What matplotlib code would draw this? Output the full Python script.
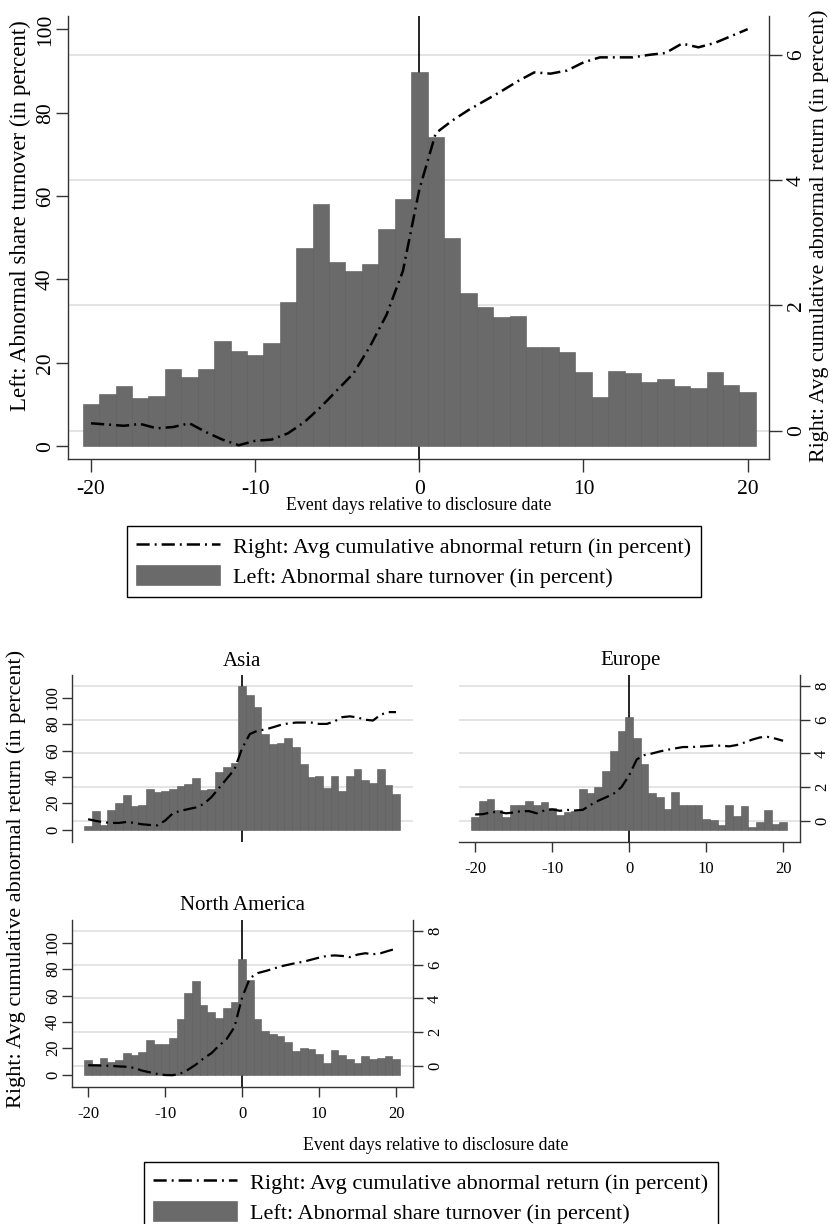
import numpy as np
import matplotlib
matplotlib.use("Agg")
import matplotlib.pyplot as plt
from matplotlib.patches import Patch
from matplotlib.lines import Line2D

plt.rcParams['font.family'] = ['Liberation Serif', 'DejaVu Serif']
plt.rcParams['lines.scale_dashes'] = False
plt.rcParams['axes.unicode_minus'] = False

# event days
days = np.arange(-20, 21)

# full sample
turnover_all = [10.0, 12.6, 14.4, 11.6, 12.0, 18.5, 16.6, 18.6, 25.3, 22.9, 21.8,
                24.8, 34.5, 47.6, 58.2, 44.2, 42.1, 43.8, 52.2, 59.2, 89.8,
                74.2, 50.0, 36.8, 33.4, 31.0, 31.1, 23.8, 23.8, 22.5, 17.7,
                11.8, 18.1, 17.6, 15.4, 16.0, 14.4, 14.0, 17.8, 14.6, 12.9]
car_all = [0.12, 0.10, 0.08, 0.11, 0.04, 0.06, 0.12, -0.02, -0.14, -0.23, -0.16,
           -0.14, -0.04, 0.14, 0.38, 0.65, 0.92, 1.35, 1.85, 2.55, 3.85,
           4.75, 4.95, 5.12, 5.27, 5.42, 5.58, 5.72, 5.70, 5.75, 5.88,
           5.96, 5.96, 5.96, 6.00, 6.03, 6.18, 6.12, 6.19, 6.30, 6.41]

# regions
turnover_asia = [2.5, 14.0, 3.3, 14.7, 20.3, 26.1, 17.7, 18.5, 30.9, 28.4, 29.2,
                 30.9, 33.0, 34.7, 39.3, 29.9, 30.9, 43.9, 47.4, 50.7, 109.0,
                 101.9, 93.0, 72.2, 64.6, 65.4, 69.7, 62.9, 49.9, 40.0, 40.6,
                 31.7, 40.6, 29.2, 40.6, 46.1, 38.0, 35.0, 46.1, 33.7, 27.1]
car_asia = [0.10, 0.00, -0.08, -0.12, -0.12, -0.06, -0.12, -0.20, -0.24, -0.26, 0.02,
            0.45, 0.60, 0.70, 0.80, 1.00, 1.40, 1.95, 2.50, 3.05, 4.30,
            5.15, 5.35, 5.42, 5.55, 5.69, 5.78, 5.83, 5.83, 5.83, 5.75,
            5.75, 5.90, 6.15, 6.20, 6.13, 6.00, 5.95, 6.30, 6.45, 6.45]

turnover_europe = [9.6, 21.5, 23.3, 15.2, 9.6, 18.5, 18.5, 21.5, 19.0, 21.0, 16.5,
                   11.4, 13.2, 13.9, 30.9, 27.9, 32.4, 44.4, 59.6, 74.8, 85.7,
                   69.2, 49.9, 27.9, 24.6, 15.7, 28.4, 19.0, 19.0, 19.0, 8.4,
                   7.1, 3.8, 19.0, 10.1, 17.7, 2.0, 5.8, 14.7, 4.3, 5.8]
car_europe = [0.38, 0.40, 0.50, 0.55, 0.45, 0.50, 0.58, 0.58, 0.45, 0.62, 0.68,
              0.60, 0.65, 0.62, 0.66, 0.95, 1.20, 1.40, 1.62, 2.00, 2.70,
              3.65, 3.90, 4.00, 4.12, 4.22, 4.30, 4.38, 4.38, 4.40, 4.43,
              4.47, 4.46, 4.42, 4.50, 4.65, 4.82, 4.95, 4.98, 4.88, 4.75]

turnover_na = [10.9, 8.3, 12.9, 9.6, 10.9, 16.7, 15.2, 17.2, 26.0, 23.0, 23.0,
               27.8, 41.9, 61.9, 70.7, 52.5, 47.5, 43.2, 50.5, 55.0, 87.9,
               71.5, 42.4, 32.8, 30.6, 29.3, 24.7, 17.9, 19.9, 19.7, 15.9,
               9.1, 18.4, 14.6, 12.1, 8.8, 13.9, 12.1, 12.4, 13.9, 12.1]
car_na = [0.04, 0.03, 0.02, 0.00, -0.03, -0.05, -0.12, -0.28, -0.38, -0.48, -0.54,
          -0.55, -0.45, -0.22, 0.08, 0.45, 0.75, 1.20, 1.60, 2.30, 4.05,
          5.20, 5.50, 5.62, 5.75, 5.90, 6.00, 6.10, 6.18, 6.30, 6.42,
          6.52, 6.55, 6.52, 6.45, 6.60, 6.68, 6.62, 6.68, 6.82, 6.95]

LBL_CAR = 'Right: Avg cumulative abnormal return (in percent)'
LBL_TURN = 'Left: Abnormal share turnover (in percent)'
XLBL = 'Event days relative to disclosure date'

W, H = 830, 1224
fig = plt.figure(figsize=(W / 100, H / 100), dpi=100)

BAR = '#6a6a6a'
GRID = '#dcdcdc'
AXC = '#333333'
DASH = (0, (9.5, 3.6, 1.4, 3.6))


def px_axes(x0, y0, x1, y1):
    return fig.add_axes([x0 / W, 1 - y1 / H, (x1 - x0) / W, (y1 - y0) / H])


def panel(box, turnover, car, ylim_l, ylim_r, lticks, rticks, xlim,
          left=True, right=True, bottom=True, fs=11, ticklen=7, lpad=1, rpad=3,
          xpad=7, lw=1.6):
    ax = px_axes(*box)
    axr = ax.twinx()
    ax.set_zorder(axr.get_zorder() + 1)
    ax.patch.set_visible(False)

    ax.axvline(0, color='black', lw=1.2, zorder=0)
    ax.bar(days, turnover, width=1, color=BAR, edgecolor='#595959', lw=0.4, zorder=1)
    ax.plot(days, car, transform=axr.transData, color='black', lw=lw,
            linestyle=DASH, zorder=3)

    ax.set_xlim(*xlim)
    ax.set_ylim(*ylim_l)
    axr.set_ylim(*ylim_r)
    ax.set_yticks(lticks)
    axr.set_yticks(rticks)
    ax.set_xticks([-20, -10, 0, 10, 20])

    axr.grid(axis='y', color=GRID, lw=1.1)
    axr.grid(axis='x', visible=False)

    for a in (ax, axr):
        for s in a.spines.values():
            s.set_visible(False)
            s.set_color(AXC)
            s.set_linewidth(1.0)
    ax.spines['left'].set_visible(left)
    ax.spines['bottom'].set_visible(bottom)
    axr.spines['right'].set_visible(right)

    ax.tick_params(axis='y', direction='out', length=ticklen if left else 0,
                   width=1, color=AXC, labelsize=fs, pad=lpad, labelrotation=90,
                   labelleft=left)
    for t in ax.get_yticklabels():
        t.set_va('center')
    axr.tick_params(axis='y', direction='out', length=ticklen if right else 0,
                    width=1, color=AXC, labelsize=fs, pad=rpad, labelrotation=90,
                    labelright=right)
    for t in axr.get_yticklabels():
        t.set_va('center')
    ax.tick_params(axis='x', direction='out', length=ticklen if bottom else 0,
                   width=1, color=AXC, labelsize=fs, pad=xpad,
                   labelbottom=bottom)
    return ax, axr


def legend(x, y, fs):
    handles = [Line2D([], [], color='black', lw=1.8, linestyle=DASH),
               Patch(facecolor=BAR, edgecolor='#595959', lw=0.4)]
    fig.legend(handles, [LBL_CAR, LBL_TURN], loc='upper left',
               bbox_to_anchor=(x / W, 1 - y / H), borderaxespad=0,
               fontsize=fs, frameon=True, fancybox=False, edgecolor='black',
               framealpha=1, borderpad=0.42, handlelength=3.75, handleheight=1.0,
               handletextpad=0.62, labelspacing=0.32)


# top chart: all firms
panel((68, 16, 769, 459), turnover_all, car_all, (-3.1, 103.2), (-0.45, 6.62),
      [0, 20, 40, 60, 80, 100], [0, 2, 4, 6], (-21.4, 21.3),
      fs=15.5, ticklen=9, lpad=0.5, rpad=4, xpad=6, lw=1.8)
fig.text(20 / W, 1 - 216 / H, LBL_TURN, rotation=90, ha='center', va='center', fontsize=16.5)
fig.text(819 / W, 1 - 236 / H, LBL_CAR, rotation=90, ha='center', va='center', fontsize=15.8)
fig.text(419 / W, 1 - 506 / H, XLBL, ha='center', va='center', fontsize=12.8)
legend(127, 526, 16)

# regional panels
ylim_l = (-9.4, 117.3)
ylim_r = (-1.25, 8.65)
lt = [0, 20, 40, 60, 80, 100]
rt = [0, 2, 4, 6, 8]
xl = (-22.1, 22.2)

panel((72, 675, 413, 842), turnover_asia, car_asia, ylim_l, ylim_r, lt, rt, xl,
      left=True, right=False, bottom=False, fs=12)
panel((459, 675, 800, 842), turnover_europe, car_europe, ylim_l, ylim_r, lt, rt, xl,
      left=False, right=True, bottom=True, fs=12)
panel((72, 920, 413, 1087), turnover_na, car_na, ylim_l, ylim_r, lt, rt, xl,
      left=True, right=True, bottom=True, fs=12)

fig.text(242 / W, 1 - 661 / H, 'Asia', ha='center', va='center', fontsize=15)
fig.text(631 / W, 1 - 661 / H, 'Europe', ha='center', va='center', fontsize=15)
fig.text(242 / W, 1 - 905 / H, 'North America', ha='center', va='center', fontsize=15)

fig.text(16 / W, 1 - 879 / H, LBL_CAR, rotation=90, ha='center', va='center', fontsize=16)
fig.text(436 / W, 1 - 1145 / H, XLBL, ha='center', va='center', fontsize=12.8)
legend(144, 1162, 16)

fig.savefig('out.png', dpi=100, facecolor='white')
